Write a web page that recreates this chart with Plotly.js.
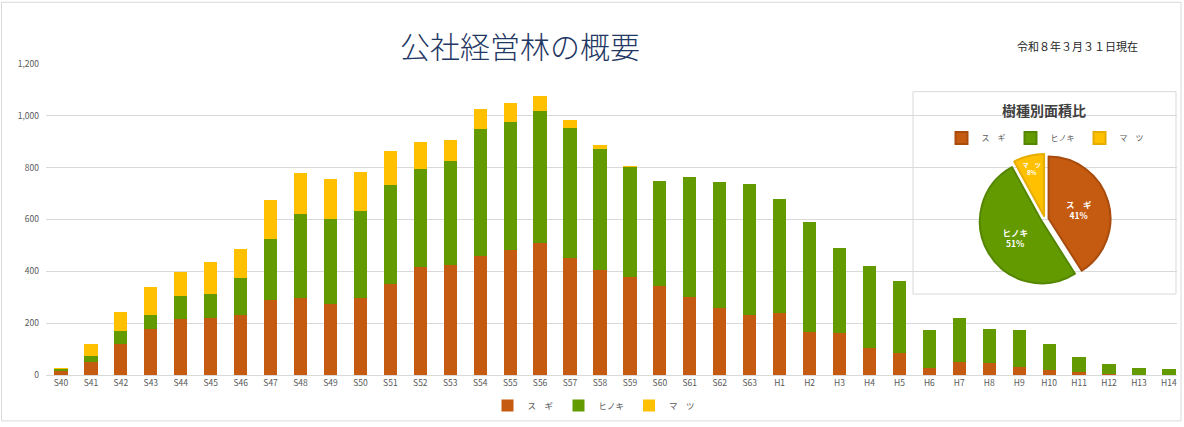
<!DOCTYPE html>
<html>
<head>
<meta charset="utf-8">
<script src="https://cdn.plot.ly/plotly-3.0.1.min.js"></script>
<style>
  html, body { margin: 0; padding: 0; background: #fff; }
  #chart { width: 1184px; height: 427px; }
</style>
</head>
<body>
<div id="chart"></div>
<script>
// 林齢別（植栽年度別）面積、樹種ごと
const categories = ['S40', 'S41', 'S42', 'S43', 'S44', 'S45', 'S46', 'S47', 'S48', 'S49',
  'S50', 'S51', 'S52', 'S53', 'S54', 'S55', 'S56', 'S57', 'S58', 'S59',
  'S60', 'S61', 'S62', 'S63', 'H1', 'H2', 'H3', 'H4', 'H5', 'H6',
  'H7', 'H8', 'H9', 'H10', 'H11', 'H12', 'H13', 'H14']
const sugi = [14, 52, 119, 178, 218, 221, 233, 288, 297, 274,
  297, 350, 416, 425, 458, 483, 509, 452, 406, 380,
  344, 302, 257, 233, 239, 167, 161, 106, 84, 28,
  51, 46, 31, 19, 13, 4, 0, 0]
const hinoki = [8, 20, 52, 55, 86, 92, 142, 238, 326, 329,
  335, 383, 377, 402, 492, 492, 509, 501, 467, 423,
  405, 463, 489, 504, 442, 422, 329, 316, 278, 145,
  169, 131, 142, 102, 55, 37, 28, 23]
const matsu = [5, 46, 71, 106, 93, 123, 112, 148, 156, 152,
  151, 133, 105, 78, 78, 75, 57, 32, 13, 5,
  0, 0, 0, 0, 0, 0, 0, 0, 0, 0,
  0, 0, 0, 0, 0, 0, 0, 0]
const seriesNames = ['ス　ギ', 'ヒノキ', 'マ　ツ']

// 樹種別面積比（％）
const pieLabels = ['ス　ギ', 'ヒノキ', 'マ　ツ']
const pieValues = [41, 51, 8]

const colors = ['#C55A11', '#639A00', '#FFC000']
const edgeColors = ['#A84B0C', '#558600', '#E6AC00']
const font = '"Noto Sans CJK JP", "Noto Sans", sans-serif'

// plot area in pixels: x 46..1177, y 64..379
const L = 46, R = 1177, T = 64, B = 379
const px = x => (x - L) / (R - L)
const py = y => (B - y) / (B - T)

const bar = (name, vals, i) => ({
  type: 'bar',
  name: name,
  x: categories,
  y: vals,
  marker: { color: colors[i], line: { width: 0 } },
  hoverinfo: 'x+y+name'
})

const data = [
  bar(seriesNames[0], sugi, 0),
  bar(seriesNames[1], hinoki, 1),
  bar(seriesNames[2], matsu, 2),
  {
    type: 'pie',
    labels: pieLabels,
    values: pieValues,
    sort: false,
    direction: 'clockwise',
    rotation: 0,
    pull: [0.06, 0.06, 0.06],
    domain: { x: [px(977), px(1113)], y: [py(288), py(155)] },
    marker: { colors: colors, line: { color: edgeColors, width: 2 } },
    textinfo: 'label+percent',
    textposition: 'inside',
    insidetextorientation: 'horizontal',
    textfont: { family: font, size: 8.5, color: '#ffffff', weight: 'bold' },
    legend: 'legend2',
    hoverinfo: 'label+percent'
  }
]

const layout = {
  width: 1184,
  height: 427,
  margin: { l: L, r: 1184 - R, t: T, b: 427 - B },
  paper_bgcolor: '#ffffff',
  plot_bgcolor: '#ffffff',
  font: { family: font, color: '#595959', size: 9 },
  barmode: 'stack',
  bargap: 0.56,
  showlegend: true,
  xaxis: {
    type: 'category',
    range: [-0.5, 37.27],
    showgrid: false,
    showline: true,
    linecolor: '#D9D9D9',
    linewidth: 1,
    ticks: '',
    tickfont: { size: 8.5, color: '#595959' },
    fixedrange: true
  },
  yaxis: {
    range: [0, 1200],
    dtick: 200,
    tickformat: ',',
    gridcolor: '#D9D9D9',
    gridwidth: 1,
    zeroline: false,
    showline: false,
    ticks: '',
    ticklabelstandoff: 6,
    tickfont: { size: 8.5, color: '#595959' },
    fixedrange: true
  },
  legend: {
    orientation: 'h',
    traceorder: 'normal',
    x: px(594),
    xanchor: 'center',
    y: py(410),
    yanchor: 'middle',
    font: { size: 8.5, color: '#595959' },
    itemwidth: 30,
    bgcolor: 'rgba(0,0,0,0)'
  },
  legend2: {
    orientation: 'h',
    x: px(1045),
    xanchor: 'center',
    y: py(139),
    yanchor: 'middle',
    font: { size: 8, color: '#595959' },
    itemwidth: 30,
    bgcolor: 'rgba(0,0,0,0)'
  },
  annotations: [
    {
      text: '公社経営林の概要',
      xref: 'paper', yref: 'paper',
      x: px(520), y: py(45),
      xanchor: 'center', yanchor: 'middle',
      showarrow: false,
      font: { family: font, size: 30, color: '#1F3864', weight: 300 }
    },
    {
      text: '令和８年３月３１日現在',
      xref: 'paper', yref: 'paper',
      x: px(1077), y: py(46),
      xanchor: 'center', yanchor: 'middle',
      showarrow: false,
      font: { family: font, size: 11, color: '#262626' }
    },
    {
      text: '樹種別面積比',
      xref: 'paper', yref: 'paper',
      x: px(1044), y: py(111),
      xanchor: 'center', yanchor: 'middle',
      showarrow: false,
      font: { family: font, size: 14, color: '#404040', weight: 'bold' }
    }
  ],
  shapes: [
    // outer frame
    {
      type: 'rect', xref: 'paper', yref: 'paper',
      x0: px(1.5), x1: px(1181), y0: py(1.5), y1: py(425.5),
      line: { color: '#D9D9D9', width: 1 }, fillcolor: 'rgba(0,0,0,0)',
      layer: 'above'
    },
    // pie chart frame
    {
      type: 'rect', xref: 'paper', yref: 'paper',
      x0: px(913), x1: px(1176), y0: py(92), y1: py(297),
      line: { color: '#D9D9D9', width: 1 }, fillcolor: 'rgba(0,0,0,0)',
      layer: 'above'
    }
  ]
}

Plotly.newPlot('chart', data, layout, { displayModeBar: false, staticPlot: true })
</script>
</body>
</html>
